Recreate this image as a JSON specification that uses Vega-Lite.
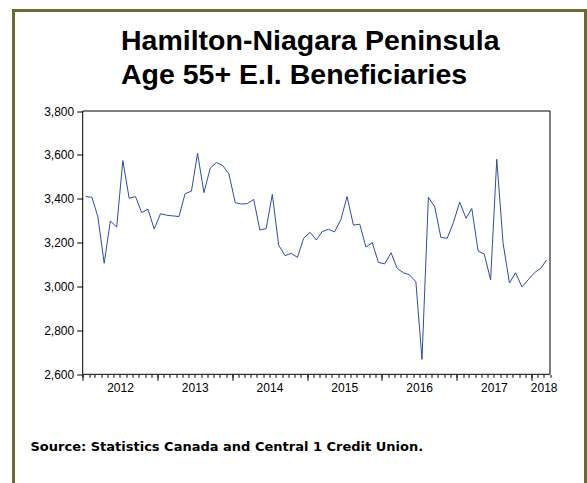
{
  "$schema": "https://vega.github.io/schema/vega-lite/v6.json",
  "autosize": {"type": "none"},
  "width": 572,
  "height": 480,
  "padding": {"left": 13.5, "top": 10.5, "right": 1.5, "bottom": -7.5},
  "background": "white",
  "config": {
    "view": {"stroke": "#6B6B2F", "strokeWidth": 3, "fill": "white"},
    "font": "Liberation Sans"
  },
  "title": {
    "text": ["Hamilton-Niagara Peninsula", "Age 55+ E.I. Beneficiaries"],
    "anchor": "start",
    "frame": "group",
    "offset": 0,
    "dx": 107.5,
    "dy": 101.5,
    "baseline": "alphabetic",
    "font": "Liberation Sans",
    "fontSize": 28.5,
    "fontWeight": "bold",
    "color": "black",
    "lineHeight": 34
  },
  "layer": [
    {
      "data": {"values": [{"k": 1}]},
      "mark": {"type": "rect", "filled": false, "stroke": "black", "strokeWidth": 1},
      "encoding": {
        "x": {
          "datum": {"year": 2012, "month": 1, "date": 1, "utc": true},
          "type": "temporal",
          "scale": {
            "type": "utc",
            "domain": [{"year": 2012, "month": 1, "date": 1, "utc": true}, {"year": 2018, "month": 4, "date": 1, "utc": true}],
            "range": [69.2, 536.5],
            "nice": false
          },
          "axis": {
            "orient": "bottom",
            "offset": -116.2,
            "tickCount": {"interval": "month", "step": 1},
            "tickSize": 3,
            "tickColor": "black",
            "domain": false,
            "grid": false,
            "labelExpr": "utcmonth(datum.value) == 6 || (utcyear(datum.value) == 2018 && utcmonth(datum.value) == 2) ? utcFormat(datum.value, '%Y') : ''",
            "labelPadding": 5,
            "labelFont": "Liberation Sans",
            "labelFontSize": 12,
            "labelColor": "black",
            "labelOverlap": false,
            "labelBound": false,
            "labelFlush": false,
            "title": "Source: Statistics Canada and Central 1 Credit Union.",
            "titleX": 16.5,
            "titleY": 76,
            "titleAlign": "left",
            "titleBaseline": "alphabetic",
            "titleFont": "DejaVu Sans",
            "titleFontSize": 13,
            "titleFontWeight": "bold",
            "titleColor": "black"
          }
        },
        "x2": {"datum": {"year": 2018, "month": 4, "date": 1, "utc": true}},
        "y": {
          "datum": 2600,
          "type": "quantitative",
          "scale": {"domain": [2600, 3800], "range": [363.8, 100.5], "nice": false, "zero": false},
          "axis": {
            "orient": "left",
            "offset": -69.2,
            "values": [2600, 2800, 3000, 3200, 3400, 3600, 3800],
            "format": ",.0f",
            "tickSize": 6,
            "tickColor": "black",
            "domain": false,
            "grid": false,
            "labelPadding": 3,
            "labelFont": "Liberation Sans",
            "labelFontSize": 12,
            "labelColor": "black",
            "title": null
          }
        },
        "y2": {"datum": 3800}
      }
    },
    {
      "data": {
        "values": [
          {"date": "2012-01-15", "value": 3410},
          {"date": "2012-02-15", "value": 3407},
          {"date": "2012-03-15", "value": 3318},
          {"date": "2012-04-15", "value": 3106},
          {"date": "2012-05-15", "value": 3299},
          {"date": "2012-06-15", "value": 3271},
          {"date": "2012-07-15", "value": 3574},
          {"date": "2012-08-15", "value": 3402},
          {"date": "2012-09-15", "value": 3410},
          {"date": "2012-10-15", "value": 3337},
          {"date": "2012-11-15", "value": 3352},
          {"date": "2012-12-15", "value": 3262},
          {"date": "2013-01-15", "value": 3332},
          {"date": "2013-02-15", "value": 3325},
          {"date": "2013-03-15", "value": 3322},
          {"date": "2013-04-15", "value": 3319},
          {"date": "2013-05-15", "value": 3423},
          {"date": "2013-06-15", "value": 3435},
          {"date": "2013-07-15", "value": 3607},
          {"date": "2013-08-15", "value": 3428},
          {"date": "2013-09-15", "value": 3540},
          {"date": "2013-10-15", "value": 3565},
          {"date": "2013-11-15", "value": 3551},
          {"date": "2013-12-15", "value": 3513},
          {"date": "2014-01-15", "value": 3382},
          {"date": "2014-02-15", "value": 3376},
          {"date": "2014-03-15", "value": 3378},
          {"date": "2014-04-15", "value": 3397},
          {"date": "2014-05-15", "value": 3258},
          {"date": "2014-06-15", "value": 3264},
          {"date": "2014-07-15", "value": 3420},
          {"date": "2014-08-15", "value": 3189},
          {"date": "2014-09-15", "value": 3141},
          {"date": "2014-10-15", "value": 3151},
          {"date": "2014-11-15", "value": 3133},
          {"date": "2014-12-15", "value": 3220},
          {"date": "2015-01-15", "value": 3247},
          {"date": "2015-02-15", "value": 3212},
          {"date": "2015-03-15", "value": 3250},
          {"date": "2015-04-15", "value": 3261},
          {"date": "2015-05-15", "value": 3249},
          {"date": "2015-06-15", "value": 3306},
          {"date": "2015-07-15", "value": 3410},
          {"date": "2015-08-15", "value": 3280},
          {"date": "2015-09-15", "value": 3284},
          {"date": "2015-10-15", "value": 3180},
          {"date": "2015-11-15", "value": 3200},
          {"date": "2015-12-15", "value": 3110},
          {"date": "2016-01-15", "value": 3103},
          {"date": "2016-02-15", "value": 3154},
          {"date": "2016-03-15", "value": 3083},
          {"date": "2016-04-15", "value": 3063},
          {"date": "2016-05-15", "value": 3053},
          {"date": "2016-06-15", "value": 3022},
          {"date": "2016-07-15", "value": 2668},
          {"date": "2016-08-15", "value": 3407},
          {"date": "2016-09-15", "value": 3364},
          {"date": "2016-10-15", "value": 3224},
          {"date": "2016-11-15", "value": 3220},
          {"date": "2016-12-15", "value": 3291},
          {"date": "2017-01-15", "value": 3385},
          {"date": "2017-02-15", "value": 3311},
          {"date": "2017-03-15", "value": 3356},
          {"date": "2017-04-15", "value": 3162},
          {"date": "2017-05-15", "value": 3148},
          {"date": "2017-06-15", "value": 3030},
          {"date": "2017-07-15", "value": 3580},
          {"date": "2017-08-15", "value": 3197},
          {"date": "2017-09-15", "value": 3016},
          {"date": "2017-10-15", "value": 3063},
          {"date": "2017-11-15", "value": 2998},
          {"date": "2017-12-15", "value": 3030},
          {"date": "2018-01-15", "value": 3063},
          {"date": "2018-02-15", "value": 3083},
          {"date": "2018-03-15", "value": 3121}
        ]
      },
      "mark": {"type": "line", "color": "#2D4DA8", "strokeWidth": 1},
      "encoding": {
        "x": {
          "field": "date",
          "type": "temporal",
          "axis": {
            "orient": "bottom",
            "offset": -116.2,
            "tickCount": {"interval": "year", "step": 1},
            "tickSize": 6,
            "tickColor": "black",
            "domain": false,
            "grid": false,
            "labels": false,
            "title": null
          }
        },
        "y": {
          "field": "value",
          "type": "quantitative",
          "axis": {
            "orient": "left",
            "offset": -69.2,
            "values": [2600, 2800, 3000, 3200, 3400, 3600, 3800],
            "format": ",.0f",
            "tickSize": 6,
            "tickColor": "black",
            "domain": false,
            "grid": false,
            "labelPadding": 3,
            "labelFont": "Liberation Sans",
            "labelFontSize": 12,
            "labelColor": "black",
            "title": null
          }
        }
      }
    }
  ],
  "resolve": {"axis": {"x": "independent"}}
}
